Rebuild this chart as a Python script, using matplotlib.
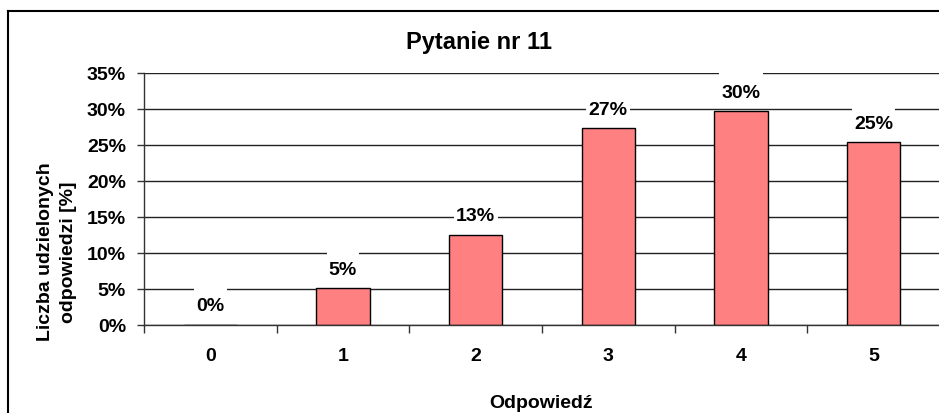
import matplotlib
matplotlib.use("Agg")
import matplotlib.pyplot as plt
from matplotlib.path import Path
from matplotlib.lines import Line2D
from matplotlib.ticker import FuncFormatter

# Dane
odpowiedzi = ["0", "1", "2", "3", "4", "5"]
udzial = [0.0, 0.051, 0.125, 0.273, 0.296, 0.253]
etykiety = ["0%", "5%", "13%", "27%", "30%", "25%"]
y_ticks = [0.0, 0.05, 0.10, 0.15, 0.20, 0.25, 0.30, 0.35]

plt.rcParams["font.family"] = ["Liberation Sans", "DejaVu Sans"]
plt.rcParams["font.weight"] = "bold"

W, H = 939, 414
fig = plt.figure(figsize=(W / 100, H / 100), dpi=100)
fig.patch.set_facecolor("white")

# obszar wykresu (px -> ułamek figury)
ax = fig.add_axes([144 / W, 1 - 326 / H, (940 - 144) / W, (326 - 73.5) / H])

x = list(range(len(odpowiedzi)))
ax.bar(x, udzial, width=0.4, color="#FF8080", edgecolor="black",
       linewidth=1.0, zorder=2)


# białe tło etykiet - wyższe niż tekst, jak w Excelu
def label_box(x0, y0, width, height, mutation_size):
    hx = 0.12 * mutation_size
    top = 0.62 * mutation_size
    bottom = 0.15 * mutation_size
    return Path([(x0 - hx, y0 - bottom), (x0 + width + hx, y0 - bottom),
                 (x0 + width + hx, y0 + height + top),
                 (x0 - hx, y0 + height + top), (x0 - hx, y0 - bottom)],
                closed=True)


for xi, v, lab in zip(x, udzial, etykiety):
    ax.annotate(lab, xy=(xi, v), xytext=(0, 13.7), textcoords="offset points",
                ha="center", va="center", fontsize=14, fontweight="bold",
                bbox=dict(boxstyle=label_box, facecolor="white",
                          edgecolor="none"),
                zorder=3)

ax.set_xlim(-0.5, len(odpowiedzi) - 0.5)
ax.set_ylim(0, 0.35)
ax.set_yticks(y_ticks)
ax.yaxis.set_major_formatter(FuncFormatter(lambda v, p: f"{v * 100:.0f}%"))

# znaczniki osi X między kategoriami, etykiety na środku
ax.set_xticks([i - 0.5 for i in range(len(odpowiedzi) + 1)])
ax.set_xticklabels([])
ax.set_xticks(x, minor=True)
ax.set_xticklabels(odpowiedzi, minor=True)
ax.tick_params(axis="x", which="major", length=6, width=1, color="#333333",
               direction="out")
ax.tick_params(axis="x", which="minor", length=0, pad=16, labelsize=14)
ax.tick_params(axis="y", length=5, width=1, color="#333333", direction="out",
               pad=8, labelsize=14)

ax.grid(axis="y", color="#222222", linewidth=1.0, zorder=0)
ax.set_axisbelow(True)
for s in ["top", "right"]:
    ax.spines[s].set_visible(False)
ax.spines["left"].set_color("#333333")
ax.spines["bottom"].set_color("#333333")
ax.spines["left"].set_linewidth(1.0)
ax.spines["bottom"].set_linewidth(1.0)

# tytuł i opisy osi
fig.text(479 / W, 1 - 49 / H, "Pytanie nr 11", ha="center", va="baseline",
         fontsize=17, fontweight="bold")
fig.text(541 / W, 1 - 404 / H, "Odpowiedź", ha="center", va="center",
         fontsize=14, fontweight="bold")
fig.text(57 / W, 1 - 252 / H, "Liczba udzielonych\nodpowiedzi [%]",
         rotation=90, ha="center", va="center", multialignment="center",
         fontsize=14, fontweight="bold", linespacing=1.45)

# ramka wykresu (lewa i górna krawędź widoczna w kadrze)
fig.add_artist(Line2D([7.5 / W, 7.5 / W], [0, 1 - 11.5 / H],
                      transform=fig.transFigure, color="black", linewidth=1.5))
fig.add_artist(Line2D([7.5 / W, 1], [1 - 11.5 / H, 1 - 11.5 / H],
                      transform=fig.transFigure, color="black", linewidth=1.5))

fig.savefig("out.png", dpi=100)
